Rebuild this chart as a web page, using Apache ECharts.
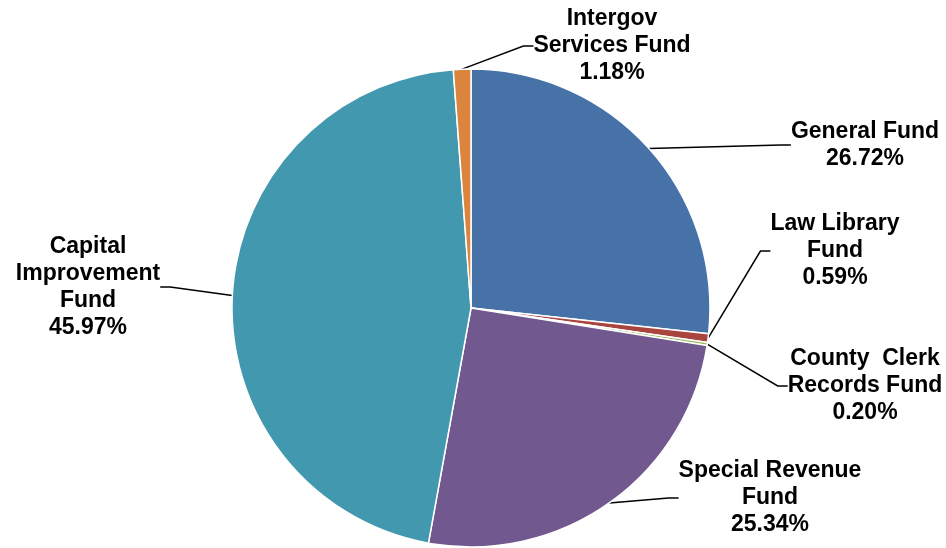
<!DOCTYPE html>
<html>
<head>
<meta charset="utf-8">
<script src="https://cdn.jsdelivr.net/npm/echarts@6/dist/echarts.min.js"></script>
<style>
  html, body { margin: 0; padding: 0; background: #fff; }
  #chart { width: 946px; height: 548px; }
</style>
</head>
<body>
<div id="chart"></div>
<script>
// fund names (label text, line breaks as in the picture)
var funds = [
    'General Fund',
    'Law Library\nFund',
    'County  Clerk\nRecords Fund',
    'Special Revenue\nFund',
    'Capital\nImprovement\nFund',
    'Intergov\nServices Fund'
];
// share of total, percent
var shares = [26.72, 0.59, 0.20, 25.34, 45.97, 1.18];
var colors = ['#4672a8', '#a9443f', '#9bbb59', '#71588f', '#4298af', '#db843d'];

// where each label block sits (centre of text)
var labelSpots = [
    [865, 145],
    [835, 251],
    [865, 386],
    [770, 498],
    [88, 287],
    [612, 46]
];

var chart = echarts.init(document.getElementById('chart'), null, {renderer: 'canvas'});

var data = funds.map(function (name, i) {
    return {name: name, value: shares[i], itemStyle: {color: colors[i]}};
});

chart.setOption({
    animation: false,
    series: [{
        type: 'pie',
        center: [471, 308],
        radius: 239,
        startAngle: 90,
        clockwise: true,
        data: data,
        itemStyle: {borderColor: '#fff', borderWidth: 1.5},
        label: {
            show: true,
            formatter: function (p) {
                return p.name + '\n' + p.value.toFixed(2) + '%';
            },
            fontFamily: 'Liberation Sans, Arial, sans-serif',
            fontWeight: 'bold',
            fontSize: 23,
            lineHeight: 27,
            color: '#000',
            align: 'center'
        },
        labelLine: {
            show: true,
            length: 20,
            length2: 10,
            lineStyle: {color: '#000', width: 1.5}
        },
        labelLayout: function (params) {
            var spot = labelSpots[params.dataIndex];
            return {
                x: spot[0],
                y: spot[1],
                align: 'center',
                verticalAlign: 'middle'
            };
        }
    }]
});

window.addEventListener('resize', function () {
    chart.resize();
});
</script>
</body>
</html>
